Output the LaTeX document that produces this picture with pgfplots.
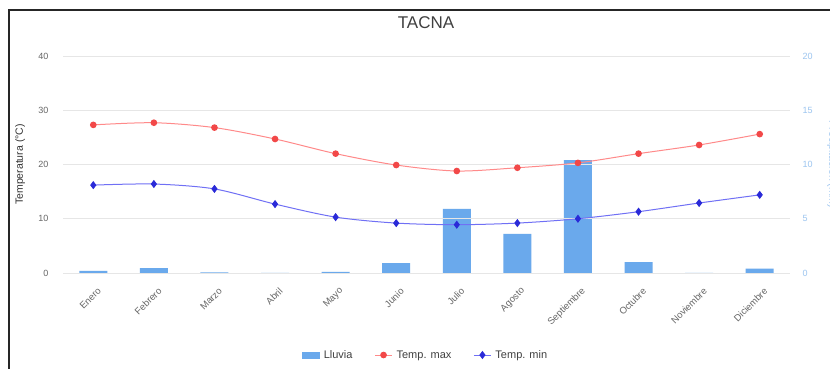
\documentclass[border=0pt]{standalone}
\usepackage{fontspec}
\setmainfont{Liberation Sans}
\usepackage{pgfplots}
\pgfplotsset{compat=1.18}
\definecolor{barblue}{HTML}{6AA9EC}
\definecolor{maxline}{HTML}{FF8A8A}
\definecolor{maxmark}{HTML}{F24848}
\definecolor{minline}{HTML}{7070F5}
\definecolor{minmark}{HTML}{2A2AD8}
\definecolor{gridc}{HTML}{E6E6E6}
\definecolor{tickc}{HTML}{666666}
\definecolor{rightc}{HTML}{9CC5F0}
\begin{document}
\begin{tikzpicture}
\useasboundingbox (0pt,0pt) rectangle (830pt,369pt);
\fill[white] (0pt,0pt) rectangle (830pt,369pt);
\begin{axis}[
  at={(63pt,96pt)}, anchor=south west, scale only axis,
  width=727pt, height=217pt,
  xmin=-0.5, xmax=11.5, ymin=0, ymax=20,
  axis y line*=right, axis x line=none,
  /pgf/number format/assume math mode=true,
  ytick={0,5,10,15,20},
  yticklabel style={font=\fontsize{9}{10}\selectfont, text=rightc, anchor=west, xshift=9pt},
  major tick length=0pt,
  y axis line style={draw=none},
  ylabel={Precipitación (mm)},
  ylabel style={font=\fontsize{10.5}{12}\selectfont, text=rightc, at={(axis description cs:1.058,0.5)}, anchor=center, rotate=180},
]
\addplot[ybar, bar width=28pt, fill=barblue, draw=none] coordinates {
 (0,0.2) (1,0.45) (2,0.05) (3,0.0) (4,0.1) (5,0.9) (6,5.9) (7,3.6) (8,10.4) (9,1.0) (10,0.0) (11,0.4)};
\end{axis}
\begin{axis}[
  at={(63pt,96pt)}, anchor=south west, scale only axis,
  width=727pt, height=217pt,
  xmin=-0.5, xmax=11.5, ymin=0, ymax=40,
  axis y line*=left, axis x line*=bottom,
  axis line style={draw=none},
  /pgf/number format/assume math mode=true,
  ytick={0,10,20,30,40},
  ymajorgrids, grid style={gridc, line width=0.6pt},
  major tick length=0pt,
  yticklabel style={font=\fontsize{9}{10}\selectfont, text=tickc, anchor=east, xshift=-11pt},
  xtick={0,...,11},
  xticklabels={Enero,Febrero,Marzo,Abril,Mayo,Junio,Julio,Agosto,Septiembre,Octubre,Noviembre,Diciembre},
  xticklabel style={font=\fontsize{9.5}{10}\selectfont, text=tickc, rotate=45, anchor=east, yshift=-16pt, xshift=-4pt},
  ylabel={Temperatura (°C)},
  ylabel style={font=\fontsize{10.5}{12}\selectfont, text=black!80, at={(axis description cs:-0.059,0.5)}, anchor=center},
  legend columns=3,
  legend style={at={(0.499,-0.378)}, anchor=center, draw=none, fill=none,
    font=\fontsize{11}{13}\selectfont, text=black!75,
    /tikz/every odd column/.append style={column sep=2pt},
    /tikz/every even column/.append style={column sep=20pt}},
  legend cell align=left,
]
\addlegendimage{area legend, fill=barblue, draw=barblue}
\addlegendentry{Lluvia}
\addplot[maxline, line width=1pt, smooth, tension=0.5, mark=*, mark size=2.8pt,
  mark options={fill=maxmark, draw=maxmark}] coordinates {
 (0,27.3) (1,27.7) (2,26.8) (3,24.7) (4,22.0) (5,19.9) (6,18.8) (7,19.4) (8,20.3) (9,22.0) (10,23.6) (11,25.6)};
\addlegendentry{Temp. max}
\addplot[minline, line width=1pt, smooth, tension=0.5, mark=diamond*, mark size=3.3pt,
  mark options={fill=minmark, draw=minmark}] coordinates {
 (0,16.2) (1,16.4) (2,15.5) (3,12.7) (4,10.3) (5,9.2) (6,8.9) (7,9.2) (8,10.0) (9,11.3) (10,12.9) (11,14.4)};
\addlegendentry{Temp. min}
\end{axis}
\node[text=black!75, font=\fontsize{17}{19}\selectfont] at (426pt,346pt) {TACNA};
\draw[line width=1.6pt, black!85] (9pt,0pt) -- (9pt,359pt) -- (830pt,359pt);
\end{tikzpicture}
\end{document}
